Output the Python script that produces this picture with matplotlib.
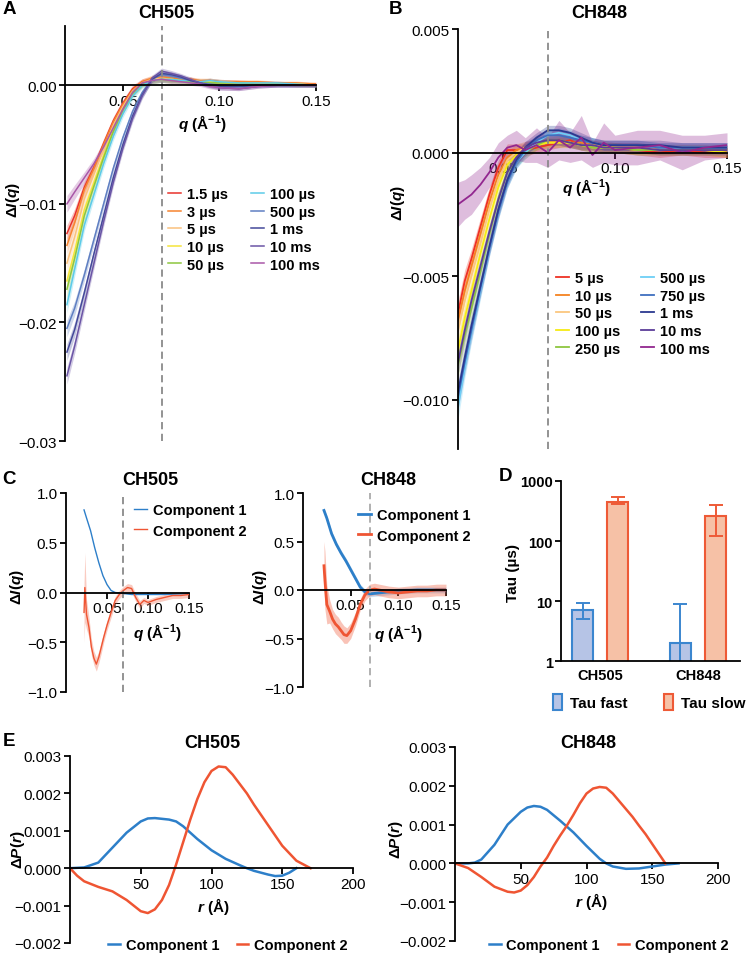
import numpy as np
import matplotlib
matplotlib.use("Agg")
import matplotlib.pyplot as plt
from matplotlib.ticker import NullLocator

plt.rcParams["font.family"] = ["Liberation Sans", "DejaVu Sans"]
plt.rcParams["mathtext.fontset"] = "custom"
plt.rcParams["mathtext.rm"] = "Liberation Sans"
plt.rcParams["mathtext.it"] = "Liberation Sans:italic"
plt.rcParams["mathtext.bf"] = "Liberation Sans:bold"
if "mathtext.bfit" in plt.rcParams:
    plt.rcParams["mathtext.bfit"] = "Liberation Sans:italic:bold"

# ---------------- data ----------------
# Panel A: CH505 difference curves, values in units of 1e-3
qA = [0.021, 0.025, 0.030, 0.035, 0.040, 0.045, 0.050, 0.055, 0.060, 0.065, 0.070,
      0.075, 0.080, 0.085, 0.090, 0.095, 0.100, 0.110, 0.120, 0.130, 0.140, 0.150]
labelsA = ["1.5 µs", "3 µs", "5 µs", "10 µs", "50 µs",
           "100 µs", "500 µs", "1 ms", "10 ms", "100 ms"]
a_1p5us = [-12.5, -11.0, -8.6, -6.9, -4.9, -3.0, -1.5, -0.3, 0.3, 0.5, 0.6, 0.5, 0.4, 0.5, 0.3, 0.4, 0.3, 0.3, 0.2, 0.2, 0.1, 0.1]
a_3us = [-13.5, -11.6, -8.8, -7.0, -5.0, -3.1, -1.6, -0.4, 0.3, 0.6, 0.7, 0.6, 0.5, 0.5, 0.4, 0.4, 0.3, 0.3, 0.3, 0.2, 0.2, 0.1]
a_5us = [-15.0, -12.8, -9.6, -7.5, -5.4, -3.4, -1.8, -0.5, 0.2, 0.5, 0.6, 0.5, 0.4, 0.4, 0.3, 0.3, 0.3, 0.2, 0.2, 0.1, 0.1, 0.0]
a_10us = [-16.5, -14.0, -10.5, -8.2, -5.9, -3.7, -2.0, -0.6, 0.1, 0.4, 0.5, 0.5, 0.4, 0.3, 0.3, 0.3, 0.2, 0.2, 0.1, 0.1, 0.1, 0.0]
a_50us = [-17.2, -14.6, -11.0, -8.5, -6.1, -3.9, -2.1, -0.7, 0.1, 0.4, 0.5, 0.4, 0.4, 0.3, 0.3, 0.2, 0.2, 0.2, 0.1, 0.1, 0.0, 0.0]
a_100us = [-18.5, -15.5, -11.8, -9.2, -6.6, -4.3, -2.4, -0.9, 0.0, 0.4, 0.5, 0.5, 0.4, 0.4, 0.3, 0.4, 0.3, 0.2, 0.2, 0.2, 0.1, 0.0]
a_500us = [-20.5, -18.8, -16.0, -13.0, -10.0, -7.0, -4.4, -2.2, -0.6, 0.5, 0.9, 0.8, 0.6, 0.4, 0.2, 0.1, 0.0, -0.1, 0.0, 0.0, 0.0, 0.0]
a_1ms = [-22.5, -20.6, -17.5, -14.2, -11.0, -7.8, -5.0, -2.6, -0.8, 0.5, 1.0, 0.9, 0.7, 0.4, 0.2, 0.0, -0.1, -0.1, 0.0, 0.0, 0.0, 0.0]
a_10ms = [-24.5, -22.0, -18.5, -15.0, -11.5, -8.2, -5.3, -2.8, -0.9, 0.6, 1.2, 1.0, 0.8, 0.5, 0.2, 0.0, -0.2, -0.3, -0.1, 0.0, 0.0, 0.0]
a_100ms = [-10.0, -9.0, -7.8, -6.6, -5.2, -3.6, -2.0, -0.6, 0.2, 0.4, 0.5, 0.4, 0.3, 0.2, 0.1, -0.1, -0.2, -0.3, -0.1, 0.0, 0.0, 0.0]
bandA = [0.7, 0.6, 0.5, 0.45, 0.4, 0.35, 0.3, 0.3, 0.25, 0.25, 0.25, 0.25, 0.2, 0.2, 0.2, 0.2, 0.2, 0.15, 0.15, 0.15, 0.15, 0.15]

# Panel B: CH848 difference curves, values in units of 1e-3
qB = [0.030, 0.033, 0.036, 0.040, 0.044, 0.048, 0.052, 0.056, 0.060, 0.065, 0.070,
      0.075, 0.080, 0.085, 0.090, 0.095, 0.100, 0.110, 0.120, 0.130, 0.140, 0.150]
labelsB = ["5 µs", "10 µs", "50 µs", "100 µs", "250 µs",
           "500 µs", "750 µs", "1 ms", "10 ms", "100 ms"]
b_5us = [-6.5, -5.2, -4.3, -3.0, -1.7, -0.6, 0.1, 0.1, 0.1, 0.2, 0.3, 0.4, 0.5, 0.3, 0.3, 0.2, 0.2, 0.1, 0.0, 0.1, 0.0, 0.0]
b_10us = [-6.8, -5.6, -4.6, -3.3, -2.0, -0.9, -0.2, 0.1, 0.2, 0.3, 0.4, 0.5, 0.4, 0.4, 0.3, 0.3, 0.2, 0.2, 0.1, 0.1, 0.1, 0.0]
b_50us = [-7.2, -6.0, -5.0, -3.7, -2.3, -1.1, -0.3, 0.0, 0.2, 0.3, 0.4, 0.4, 0.4, 0.3, 0.3, 0.2, 0.2, 0.2, 0.1, 0.1, 0.1, 0.1]
b_100us = [-8.0, -6.7, -5.6, -4.1, -2.7, -1.4, -0.5, -0.1, 0.1, 0.3, 0.4, 0.4, 0.4, 0.3, 0.2, 0.2, 0.2, 0.1, 0.1, 0.1, 0.1, 0.0]
b_250us = [-8.6, -7.4, -6.3, -4.8, -3.3, -1.9, -0.8, -0.3, 0.0, 0.3, 0.5, 0.5, 0.4, 0.3, 0.2, 0.2, 0.2, 0.1, 0.1, 0.1, 0.1, 0.1]
b_500us = [-10.3, -8.7, -7.3, -5.6, -3.9, -2.4, -1.2, -0.4, 0.0, 0.4, 0.7, 0.8, 0.7, 0.5, 0.4, 0.3, 0.3, 0.3, 0.2, 0.2, 0.2, 0.2]
b_750us = [-9.9, -8.5, -7.2, -5.5, -3.9, -2.4, -1.2, -0.4, 0.1, 0.5, 0.7, 0.7, 0.6, 0.5, 0.4, 0.3, 0.3, 0.3, 0.2, 0.2, 0.2, 0.2]
b_1ms = [-9.7, -8.3, -7.0, -5.4, -3.8, -2.3, -1.1, -0.3, 0.2, 0.6, 0.9, 0.9, 0.8, 0.6, 0.4, 0.3, 0.3, 0.3, 0.3, 0.2, 0.2, 0.2]
b_10ms = [-8.5, -7.2, -6.0, -4.6, -3.2, -1.9, -0.8, -0.2, 0.2, 0.4, 0.5, 0.5, 0.4, 0.3, 0.3, 0.2, 0.2, 0.2, 0.1, 0.1, 0.1, 0.1]
b_100ms = [-2.1, -1.9, -1.7, -1.3, -0.8, -0.2, 0.2, 0.3, 0.1, 0.3, 0.0, 0.5, 0.2, 0.6, -0.1, 0.4, 0.1, 0.2, 0.3, 0.0, 0.2, 0.3]
bandB = [0.5, 0.45, 0.4, 0.35, 0.3, 0.3, 0.25, 0.25, 0.25, 0.2, 0.2, 0.2, 0.2, 0.2, 0.2, 0.2, 0.2, 0.2, 0.2, 0.2, 0.2, 0.2]
bandB_100ms = [0.9, 0.8, 0.8, 0.7, 0.6, 0.6, 0.5, 0.6, 0.5, 0.7, 0.6, 0.8, 0.6, 0.9, 0.5, 0.8, 0.6, 0.7, 0.6, 0.7, 0.5, 0.5]

# Panel C: SVD components
qC505_c1 = [0.022, 0.025, 0.030, 0.035, 0.040, 0.045, 0.050, 0.055, 0.060, 0.070, 0.080, 0.100, 0.120, 0.150]
c505_c1 = [0.83, 0.75, 0.62, 0.45, 0.30, 0.17, 0.08, 0.02, 0.0, -0.01, -0.02, -0.02, -0.02, -0.01]
qC505_c2 = [0.022, 0.023, 0.025, 0.028, 0.031, 0.034, 0.037, 0.040, 0.043, 0.046, 0.050, 0.055, 0.060,
            0.065, 0.070, 0.075, 0.080, 0.085, 0.090, 0.095, 0.100, 0.110, 0.120, 0.130, 0.140, 0.150]
c505_c2 = [-0.20, 0.05, -0.22, -0.35, -0.55, -0.66, -0.72, -0.65, -0.55, -0.45, -0.33, -0.20, -0.08,
           -0.02, 0.02, 0.05, 0.04, -0.05, -0.12, -0.08, -0.10, -0.07, -0.05, -0.03, -0.03, -0.02]
c505_c2_band = [0.30, 0.35, 0.15, 0.10, 0.08, 0.07, 0.07, 0.06, 0.06, 0.05, 0.05, 0.05, 0.04,
                0.04, 0.04, 0.04, 0.04, 0.04, 0.04, 0.03, 0.03, 0.03, 0.03, 0.03, 0.03, 0.03]
qC848_c1 = [0.022, 0.025, 0.030, 0.035, 0.040, 0.045, 0.050, 0.055, 0.060, 0.065, 0.070, 0.080, 0.100, 0.120, 0.150]
c848_c1 = [0.82, 0.74, 0.58, 0.47, 0.38, 0.30, 0.21, 0.12, 0.03, -0.02, -0.04, -0.03, -0.01, 0.0, 0.0]
qC848_c2 = [0.022, 0.023, 0.025, 0.028, 0.031, 0.034, 0.037, 0.040, 0.043, 0.046, 0.050, 0.055,
            0.060, 0.065, 0.070, 0.075, 0.080, 0.090, 0.100, 0.110, 0.120, 0.130, 0.140, 0.150]
c848_c2 = [0.25, 0.10, -0.15, -0.22, -0.30, -0.35, -0.38, -0.42, -0.46, -0.47, -0.42, -0.30,
           -0.15, -0.05, 0.0, 0.01, 0.0, -0.02, -0.03, -0.02, -0.01, -0.01, 0.0, 0.0]
c848_c2_band = [0.25, 0.30, 0.20, 0.12, 0.10, 0.10, 0.10, 0.09, 0.09, 0.08, 0.08, 0.07,
                0.06, 0.06, 0.06, 0.06, 0.06, 0.06, 0.06, 0.06, 0.06, 0.06, 0.06, 0.06]

# Panel D: time constants (µs)
constructs = ["CH505", "CH848"]
tau_fast = [7.0, 2.0]
tau_fast_lo = [5.0, 0.1]
tau_fast_hi = [9.2, 9.0]
tau_slow = [450.0, 260.0]
tau_slow_lo = [410.0, 120.0]
tau_slow_hi = [540.0, 400.0]

# Panel E: pair distance differences, values in units of 1e-3
rE505_c1 = [0, 10, 20, 30, 40, 50, 55, 60, 70, 75, 80, 90, 100, 110, 120, 125, 130, 140, 145, 150, 155, 160]
e505_c1 = [0, 0.02, 0.15, 0.55, 0.95, 1.25, 1.33, 1.34, 1.30, 1.25, 1.12, 0.78, 0.48, 0.25, 0.08, 0.0,
           -0.07, -0.17, -0.21, -0.20, -0.12, 0.0]
rE505_c2 = [0, 5, 10, 20, 30, 40, 45, 50, 55, 60, 65, 70, 75, 80, 85, 90, 95, 100, 105, 110, 115,
            120, 125, 130, 140, 150, 160, 170]
e505_c2 = [0, -0.20, -0.35, -0.50, -0.62, -0.85, -1.0, -1.15, -1.20, -1.10, -0.85, -0.45, 0.10, 0.70,
           1.30, 1.85, 2.30, 2.60, 2.72, 2.70, 2.50, 2.25, 2.00, 1.70, 1.15, 0.60, 0.20, 0.0]
rE848_c1 = [0, 10, 15, 20, 30, 40, 50, 55, 60, 65, 70, 80, 90, 100, 110, 115, 120, 130, 140, 150, 160, 170]
e848_c1 = [0, 0.0, 0.02, 0.10, 0.48, 1.0, 1.33, 1.44, 1.48, 1.46, 1.38, 1.10, 0.80, 0.45, 0.12, 0.0,
           -0.08, -0.14, -0.13, -0.08, -0.03, 0.0]
rE848_c2 = [0, 10, 20, 30, 40, 45, 50, 55, 60, 65, 70, 75, 80, 85, 90, 95, 100, 105, 110, 115, 120,
            125, 130, 135, 140, 145, 150, 155, 160]
e848_c2 = [0, -0.12, -0.35, -0.60, -0.73, -0.75, -0.70, -0.56, -0.35, -0.08, 0.15, 0.45, 0.72, 0.97,
           1.25, 1.55, 1.80, 1.93, 1.97, 1.95, 1.80, 1.60, 1.40, 1.20, 0.97, 0.75, 0.50, 0.25, 0.0]

# ---------------- styling ----------------
colorsA = ["#e8322b", "#f7842f", "#fbc17d", "#f5e43a", "#8dc63f",
           "#5ccbe8", "#5f7fc2", "#44499a", "#6b55a6", "#a957a8"]
colorsB = ["#ee3124", "#f58220", "#fbc77f", "#f6eb14", "#8dc63f",
           "#6dcff6", "#3f6fbf", "#2b3990", "#5c3d99", "#92278f"]
BLUE = "#2d7fc9"
RED = "#ef5533"
DASH = "#8a8a8a"

W, H = 746, 954
fig = plt.figure(figsize=(W / 100, H / 100), dpi=100)


def rect(x0, y0, x1, y1):
    return [x0 / W, 1 - y1 / H, (x1 - x0) / W, (y1 - y0) / H]


def ftext(x, y, s, **kw):
    fig.text(x / W, 1 - y / H, s, ha="center", va="center", **kw)


def style(ax, zero=True):
    for s in ("top", "right"):
        ax.spines[s].set_visible(False)
    if zero:
        ax.spines["bottom"].set_position(("data", 0))
    for s in ("left", "bottom"):
        ax.spines[s].set_linewidth(1.3)
    ax.tick_params(width=1.3, length=4, labelsize=11, pad=2)


def labels(ax, xl, xpos, yl, ypos, size=11):
    ax.set_xlabel(xl, fontsize=size, fontweight="bold")
    ax.set_ylabel(yl, fontsize=size, fontweight="bold")
    ax.xaxis.set_label_coords(xpos[0] / W, 1 - xpos[1] / H, transform=fig.transFigure)
    ax.yaxis.set_label_coords(ypos[0] / W, 1 - ypos[1] / H, transform=fig.transFigure)
    ax.xaxis.label.set_va("center")
    ax.yaxis.label.set_va("center")


QLAB = r"$\mathbfit{q}$ (Å$^{\mathbf{-1}}$)"
ILAB = r"Δ$\mathbfit{I}$($\mathbfit{q}$)"
PLAB = r"Δ$\mathbfit{P}$($\mathbfit{r}$)"
RLAB = r"$\mathbfit{r}$ (Å)"
LEGPROP = {"weight": "bold", "size": 10.5}

# ---------------- Panel A ----------------
axA = fig.add_axes(rect(65, 27, 316, 442))
style(axA)
axA.set_axisbelow(True)
eA = np.array(bandA) * 1e-3
for vals, c, lab in zip([a_1p5us, a_3us, a_5us, a_10us, a_50us, a_100us,
                         a_500us, a_1ms, a_10ms, a_100ms], colorsA, labelsA):
    y = np.array(vals) * 1e-3
    axA.fill_between(qA, y - eA, y + eA, color=c, alpha=0.3, lw=0)
    axA.plot(qA, y, color=c, lw=1.1, label=lab)
axA.axvline(0.07, color=DASH, ls=(0, (4, 2.5)), lw=1.3)
axA.set_xlim(0.02, 0.15)
axA.set_ylim(-0.03, 0.005)
axA.set_xticks([0.05, 0.10, 0.15], ["0.05", "0.10", "0.15"])
axA.set_yticks([-0.03, -0.02, -0.01, 0.0], ["−0.03", "−0.02", "−0.01", "0.00"])
labels(axA, QLAB, (202, 123), ILAB, (13, 200))
axA.legend(loc="upper left", bbox_to_anchor=(168 / W, 1 - 188 / H), bbox_transform=fig.transFigure,
           ncol=2, frameon=False, prop=LEGPROP, handlelength=0.9, handletextpad=0.4,
           columnspacing=1.6, labelspacing=0.25, borderpad=0, borderaxespad=0)

# ---------------- Panel B ----------------
axB = fig.add_axes(rect(458, 30, 727, 450))
style(axB)
axB.set_axisbelow(True)
for vals, c, lab in zip([b_5us, b_10us, b_50us, b_100us, b_250us, b_500us,
                         b_750us, b_1ms, b_10ms, b_100ms], colorsB, labelsB):
    y = np.array(vals) * 1e-3
    e = np.array(bandB_100ms if lab == "100 ms" else bandB) * 1e-3
    axB.fill_between(qB, y - e, y + e, color=c, alpha=0.3, lw=0)
    axB.plot(qB, y, color=c, lw=1.3, label=lab)
axB.axvline(0.07, color=DASH, ls=(0, (4, 2.5)), lw=1.3)
axB.set_xlim(0.03, 0.15)
axB.set_ylim(-0.012, 0.005)
axB.set_xticks([0.05, 0.10, 0.15], ["0.05", "0.10", "0.15"])
axB.set_yticks([-0.010, -0.005, 0.0, 0.005], ["−0.010", "−0.005", "0.000", "0.005"])
labels(axB, QLAB, (586, 187), ILAB, (398, 203))
axB.legend(loc="upper left", bbox_to_anchor=(556 / W, 1 - 272 / H), bbox_transform=fig.transFigure,
           ncol=2, frameon=False, prop=LEGPROP, handlelength=0.9, handletextpad=0.4,
           columnspacing=1.4, labelspacing=0.25, borderpad=0, borderaxespad=0)

# ---------------- Panel C ----------------
axC1 = fig.add_axes(rect(66, 494, 189, 693))
style(axC1)
axC1.set_axisbelow(True)
axC1.plot(qC505_c1, c505_c1, color=BLUE, lw=1.0, label="Component 1")
y = np.array(c505_c2)
e = np.array(c505_c2_band)
axC1.fill_between(qC505_c2, y - e, y + e, color=RED, alpha=0.3, lw=0)
axC1.plot(qC505_c2, y, color=RED, lw=1.0, label="Component 2")
axC1.axvline(0.07, color=DASH, ls=(0, (4, 2.5)), lw=1.3)
axC1.set_xlim(0, 0.15)
axC1.set_ylim(-1.0, 1.0)
axC1.set_xticks([0.05, 0.10, 0.15], ["0.05", "0.10", "0.15"])
axC1.set_yticks([-1.0, -0.5, 0.0, 0.5, 1.0], ["−1.0", "−0.5", "0.0", "0.5", "1.0"])
labels(axC1, QLAB, (157, 633), ILAB, (17, 587))
axC1.legend(loc="upper left", bbox_to_anchor=(134 / W, 1 - 504 / H), bbox_transform=fig.transFigure,
            frameon=False, prop=LEGPROP, handlelength=0.9, handletextpad=0.4,
            labelspacing=0.45, borderpad=0, borderaxespad=0)

axC2 = fig.add_axes(rect(303, 494, 446, 688))
style(axC2)
axC2.set_axisbelow(True)
axC2.fill_between(qC848_c1, np.array(c848_c1) - 0.03, np.array(c848_c1) + 0.03,
                  color=BLUE, alpha=0.25, lw=0)
axC2.plot(qC848_c1, c848_c1, color=BLUE, lw=2.0, label="Component 1")
y = np.array(c848_c2)
e = np.array(c848_c2_band)
axC2.fill_between(qC848_c2, y - e, y + e, color=RED, alpha=0.35, lw=0)
axC2.plot(qC848_c2, y, color=RED, lw=2.0, label="Component 2")
axC2.axvline(0.07, color="#aaaaaa", ls=(0, (4, 2.5)), lw=1.3)
axC2.set_xlim(0, 0.15)
axC2.set_ylim(-1.0, 1.0)
axC2.set_xticks([0.05, 0.10, 0.15], ["0.05", "0.10", "0.15"])
axC2.set_yticks([-1.0, -0.5, 0.0, 0.5, 1.0], ["−1.0", "−0.5", "0.0", "0.5", "1.0"])
labels(axC2, QLAB, (398, 634), ILAB, (260, 587))
axC2.legend(loc="upper left", bbox_to_anchor=(358 / W, 1 - 509 / H), bbox_transform=fig.transFigure,
            frameon=False, prop=LEGPROP, handlelength=0.9, handletextpad=0.4,
            labelspacing=0.45, borderpad=0, borderaxespad=0)

# ---------------- Panel D ----------------
axD = fig.add_axes(rect(561, 482, 740, 662))
style(axD, zero=False)
axD.set_yscale("log")
xs = np.arange(len(constructs))
off, bw = 0.18, 0.22
fast = np.array(tau_fast)
slow = np.array(tau_slow)
axD.bar(xs - off, fast, bw, color="#b6c4e6", edgecolor="#3b86cf", lw=1.5, label="Tau fast")
axD.bar(xs + off, slow, bw, color="#f6c1a6", edgecolor="#ee5a36", lw=1.5, label="Tau slow")
axD.errorbar(xs - off, fast, yerr=[fast - np.array(tau_fast_lo), np.array(tau_fast_hi) - fast],
             fmt="none", ecolor="#3b86cf", elinewidth=1.4, capsize=5, capthick=1.4)
axD.errorbar(xs + off, slow, yerr=[slow - np.array(tau_slow_lo), np.array(tau_slow_hi) - slow],
             fmt="none", ecolor="#ee5a36", elinewidth=1.4, capsize=5, capthick=1.4)
axD.set_xlim(-0.4, 1.43)
axD.set_ylim(1, 1000)
axD.yaxis.set_minor_locator(NullLocator())
axD.set_yticks([1, 10, 100, 1000], ["1", "10", "100", "1000"])
axD.set_xticks(xs, constructs)
axD.tick_params(axis="x", length=0, pad=5)
axD.tick_params(labelsize=10.5)
for t in axD.get_xticklabels() + axD.get_yticklabels():
    t.set_fontweight("bold")
axD.set_ylabel("Tau (µs)", fontsize=11, fontweight="bold")
axD.yaxis.set_label_coords(513 / W, 1 - 573 / H, transform=fig.transFigure)
axD.yaxis.label.set_va("center")
axD.legend(loc="center left", bbox_to_anchor=(553 / W, 1 - 703 / H), bbox_transform=fig.transFigure,
           ncol=2, frameon=False, prop={"weight": "bold", "size": 11}, handlelength=0.6,
           handleheight=1.3, handletextpad=0.5, columnspacing=2.4, borderpad=0, borderaxespad=0)

# ---------------- Panel E ----------------
for (x0, y0, x1, y1), r1, v1, r2, v2, xlp, ylp, legx in [
        ((70, 757, 353, 944), rE505_c1, e505_c1, rE505_c2, e505_c2, (213, 907), (18, 850), 108),
        ((455, 748, 718, 942), rE848_c1, e848_c1, rE848_c2, e848_c2, (591, 902), (396, 840), 489)]:
    ax = fig.add_axes(rect(x0, y0, x1, y1))
    style(ax)
    ax.plot(r1, np.array(v1) * 1e-3, color=BLUE, lw=1.8, label="Component 1")
    ax.plot(r2, np.array(v2) * 1e-3, color=RED, lw=1.8, label="Component 2")
    ax.set_xlim(0, 200)
    ax.set_ylim(-0.002, 0.003)
    ax.set_xticks([50, 100, 150, 200], ["50", "100", "150", "200"])
    ax.set_yticks([-0.002, -0.001, 0.0, 0.001, 0.002, 0.003],
                  ["−0.002", "−0.001", "0.000", "0.001", "0.002", "0.003"])
    labels(ax, RLAB, xlp, PLAB, ylp)
    ax.legend(loc="center left", bbox_to_anchor=(legx / W, 1 - 946 / H), bbox_transform=fig.transFigure,
              ncol=2, frameon=False, prop=LEGPROP, handlelength=0.8, handletextpad=0.4,
              columnspacing=1.2, borderpad=0, borderaxespad=0)

# ---------------- titles and panel letters ----------------
TT = {"fontsize": 13, "fontweight": "bold"}
ftext(166, 13, "CH505", **TT)
ftext(599, 13, "CH848", **TT)
ftext(150, 481, "CH505", **TT)
ftext(388, 481, "CH848", **TT)
ftext(212, 744, "CH505", **TT)
ftext(588, 744, "CH848", **TT)
LT = {"fontsize": 13.5, "fontweight": "bold"}
ftext(9, 9, "A", **LT)
ftext(395, 9, "B", **LT)
ftext(9, 480, "C", **LT)
ftext(505, 477, "D", **LT)
ftext(9, 741, "E", **LT)

fig.savefig("out.png", dpi=100)
